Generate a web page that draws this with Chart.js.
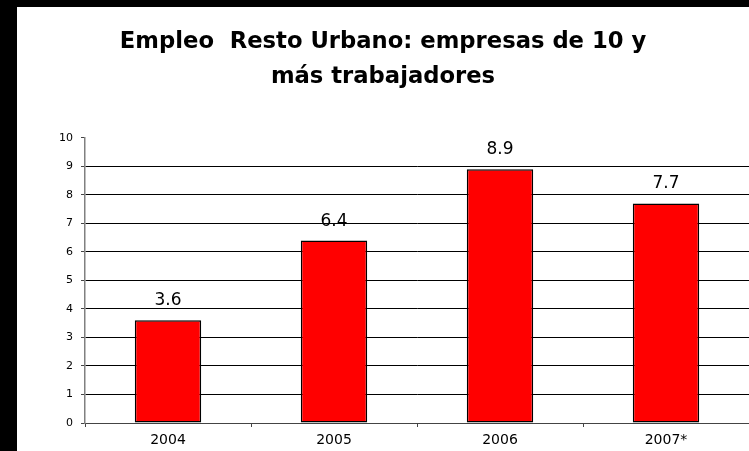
<!DOCTYPE html>
<html>
<head>
<meta charset="utf-8">
<script src="https://cdn.jsdelivr.net/npm/chart.js@4"></script>
<style>
  html, body { margin: 0; padding: 0; background: #000; width: 749px; height: 451px; overflow: hidden; }
  #wrap { position: absolute; left: 17px; top: 7px; width: 732px; height: 444px; background: #fff; }
</style>
</head>
<body>
<div id="wrap"><canvas id="c" width="732" height="444"></canvas></div>
<script>
const categories = ['2004', '2005', '2006', '2007*'];
const values = [3.6, 6.4, 8.9, 7.7];
const yTicks = [0, 1, 2, 3, 4, 5, 6, 7, 8, 9, 10];
const titleLines = ['Empleo  Resto Urbano: empresas de 10 y', 'más trabajadores'];

const FONT = '"DejaVu Sans", "Liberation Sans", Arial, sans-serif';

const valueLabels = {
  id: 'valueLabels',
  afterDatasetsDraw(chart) {
    const ctx = chart.ctx;
    const meta = chart.getDatasetMeta(0);
    ctx.save();
    ctx.font = '17px ' + FONT;
    ctx.fillStyle = '#000';
    ctx.textAlign = 'center';
    ctx.textBaseline = 'alphabetic';
    meta.data.forEach((bar, i) => {
      ctx.fillText(values[i].toFixed(1), bar.x, bar.y - 15);
    });
    ctx.restore();
  }
};

new Chart(document.getElementById('c'), {
  type: 'bar',
  data: {
    labels: categories,
    datasets: [{
      data: values,
      backgroundColor: '#ff0000',
      borderColor: '#000',
      borderWidth: 1.5,
      borderSkipped: false,
      barPercentage: 0.4,
      categoryPercentage: 1
    }]
  },
  options: {
    responsive: false,
    animation: false,
    layout: { padding: { left: 0, right: 0, top: 0, bottom: 0 } },
    plugins: {
      legend: { display: false },
      tooltip: { enabled: false },
      title: {
        display: true,
        text: titleLines,
        color: '#000',
        font: { family: FONT, size: 22.7, weight: 'bold', lineHeight: 1.54 },
        padding: { top: 18, bottom: 43 }
      }
    },
    scales: {
      x: {
        offset: true,
        border: { color: '#444', width: 1 },
        grid: { drawOnChartArea: false, offset: true, tickLength: 4, color: '#444' },
        ticks: { color: '#000', font: { family: FONT, size: 14 }, padding: 5 },
        afterFit(scale) { scale.height = 28; }
      },
      y: {
        min: 0,
        max: 10,
        border: { color: '#808080', width: 1.5 },
        grid: {
          color: (c) => (c.tick && c.tick.value === 10) ? 'rgba(0,0,0,0)' : '#000',
          tickColor: '#444',
          tickLength: 4,
          lineWidth: 1
        },
        afterBuildTicks(scale) { scale.ticks = yTicks.map(v => ({ value: v })); },
        ticks: { color: '#000', font: { family: FONT, size: 11 }, padding: 8 },
        afterFit(scale) { scale.width = 68; }
      }
    }
  },
  plugins: [valueLabels]
});
</script>
</body>
</html>
